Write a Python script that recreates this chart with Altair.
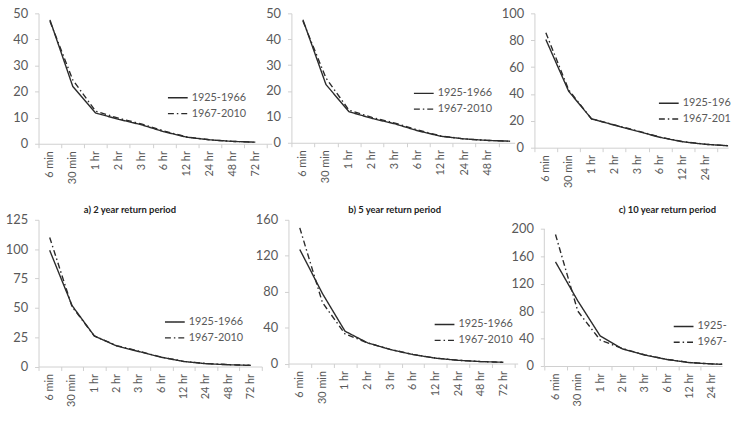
import altair as alt
import pandas as pd

# Storm durations on the horizontal axis and the two record periods compared
durations = ["6 min", "30 min", "1 hr", "2 hr", "3 hr", "6 hr", "12 hr", "24 hr", "48 hr", "72 hr"]
periods = ["1925-1966", "1967-2010"]

# Upper row
a_early = [47.5, 22.0, 11.8, 9.4, 7.3, 4.6, 2.5, 1.5, 0.9, 0.6]
a_late = [47.0, 24.5, 12.5, 9.8, 7.6, 4.9, 2.6, 1.5, 0.9, 0.6]
b_early = [47.5, 22.5, 12.0, 9.4, 7.3, 4.6, 2.5, 1.5, 0.9, 0.6]
b_late = [47.0, 25.0, 12.6, 9.8, 7.6, 4.9, 2.6, 1.5, 0.9, 0.6]
c_early = [80.5, 42.0, 21.5, 16.8, 12.3, 7.7, 4.4, 2.5, 1.4, 1.0]
c_late = [85.5, 43.0, 21.5, 17.0, 12.6, 7.9, 4.5, 2.6, 1.5, 1.0]

# Lower row
d_early = [99.0, 52.0, 26.0, 17.5, 12.7, 7.9, 4.3, 2.4, 1.5, 1.0]
d_late = [110.0, 51.0, 26.0, 17.8, 13.0, 8.0, 4.4, 2.5, 1.6, 1.0]
e_early = [127.0, 78.0, 36.0, 23.0, 15.6, 10.0, 6.0, 3.6, 2.2, 1.4]
e_late = [151.0, 68.0, 33.0, 23.0, 15.8, 10.2, 6.1, 3.7, 2.2, 1.4]
f_early = [152.0, 95.0, 44.0, 25.0, 16.0, 9.5, 5.0, 3.0, 2.0, 1.5]
f_late = [192.0, 80.0, 38.0, 25.5, 16.3, 9.7, 5.1, 3.1, 2.0, 1.5]

captions = ["a) 2 year return period", "b) 5 year return period", "c) 10 year return period"]

FONT = "Lato"
TEXT = "#595959"
AXIS = "#cfcfcf"
LINE = "#2b2b2b"

label_array = "[" + ",".join("'" + d + "'" for d in durations) + "]"


def panel(early, late, y_max, y_step, width, height, step,
          legend_x, legend_y, row_pad, caption=None, caption_x=0, caption_pad=20,
          y_top=None, legend_chars=None):
    n = len(durations)
    x_max = width / step
    frame = pd.DataFrame({
        "duration": durations * 2,
        "pos": [i + 0.5 for i in range(n)] * 2,
        "period": [periods[0]] * n + [periods[1]] * n,
        "value": early + late,
    })
    ticks = [i for i in range(n + 1) if i <= x_max + 1e-9]
    # only label the bands whose text stays inside the panel
    last_label = max(i for i in range(n) if i + 0.8 <= x_max)
    x_kw = dict(
        values=ticks,
        labelExpr=f"datum.value <= {last_label} ? {label_array}[datum.value] : ''",
        labelAngle=270, labelAlign="right", labelBaseline="middle",
        labelOffset=step / 2, labelPadding=3, labelFontSize=11,
        labelOverlap=False, labelFlush=False,
        tickSize=4, grid=False,
    )
    if caption:
        x_kw.update(title=caption, titleFontSize=9.5, titleFontWeight="bold",
                    titleColor="#222222", titleX=caption_x, titlePadding=caption_pad)
    else:
        x_kw.update(title=None)

    y_kw = dict(
        values=list(range(0, y_max + 1, y_step)), title=None, grid=False,
        tickSize=4, labelPadding=7, labelFontSize=13,
        labelOverlap=False, labelFlush=False,
    )
    if y_top is not None:
        y_kw.update(domain=False)

    y_scale = alt.Scale(domain=[0, y_top if y_top is not None else y_max], nice=False)
    x_scale = alt.Scale(domain=[0, x_max], nice=False, zero=False)

    legend_kw = dict(
        title=None, orient="none", legendX=legend_x, legendY=legend_y,
        symbolType="stroke", symbolSize=400, symbolStrokeWidth=1.4,
        symbolStrokeColor=LINE, labelFont=FONT, labelFontSize=11,
        labelColor=TEXT, labelOffset=3, rowPadding=row_pad, padding=0,
    )
    if legend_chars:
        legend_kw.update(labelExpr=f"substring(datum.label, 0, {legend_chars})")

    lines = alt.Chart(frame).mark_line(color=LINE, strokeWidth=1.4, clip=True).encode(
        x=alt.X("pos:Q", scale=x_scale, axis=alt.Axis(**x_kw)),
        y=alt.Y("value:Q", scale=y_scale, axis=alt.Axis(**y_kw)),
        strokeDash=alt.StrokeDash(
            "period:N",
            scale=alt.Scale(domain=periods, range=[[1, 0], [6, 3, 1.5, 3]]),
            legend=alt.Legend(**legend_kw),
        ),
    )
    if y_top is None:
        return lines.properties(width=width, height=height)
    # value axis line drawn only up to the top tick
    spine = pd.DataFrame({"lo": [0], "hi": [y_max]})
    rule = alt.Chart(spine).mark_rule(color=AXIS, strokeWidth=1).encode(
        x=alt.value(0), y=alt.Y("lo:Q", scale=y_scale, axis=alt.Axis(**y_kw)), y2="hi:Q")
    return alt.layer(lines, rule).properties(width=width, height=height)


pa = panel(a_early, a_late, 50, 10, 236, 132, 23.1, 130, 74.5, -1.5,
           captions[0], 92, 21)
pb = panel(b_early, b_late, 50, 10, 226, 131, 23.3, 123, 70, -1.5,
           captions[1], 104, 22)
pc = panel(c_early, c_late, 100, 20, 196, 136, 23.1, 125, 80, -1,
           captions[2], 134, 17, legend_chars=8)

pd_ = panel(d_early, d_late, 125, 25, 226, 148.5, 22.6, 127, 92.5, -3)
pe = panel(e_early, e_late, 160, 40, 232, 145.5, 22.9, 147, 95, 0)
pf = panel(f_early, f_late, 200, 40, 180, 148, 22.6, 130, 97, -1, y_top=213.4,
           legend_chars=5)

row1 = alt.hconcat(pa, pb, pc, spacing=20, bounds="flush").resolve_legend(
    strokeDash="independent").resolve_scale(strokeDash="independent")
row2 = alt.hconcat(pd_, pe, pf, spacing=27, bounds="flush").resolve_legend(
    strokeDash="independent").resolve_scale(strokeDash="independent")

chart = alt.vconcat(row1, row2, spacing=0).resolve_legend(
    strokeDash="independent").resolve_scale(strokeDash="independent").properties(
    padding={"left": 5, "top": 5, "right": 0, "bottom": 0},
    background="white",
).configure_view(strokeWidth=0).configure_axis(
    labelFont=FONT, titleFont=FONT, labelColor=TEXT,
    domainColor=AXIS, tickColor=AXIS,
)

chart.save("out.html", embed_options={"renderer": "svg", "actions": False})
